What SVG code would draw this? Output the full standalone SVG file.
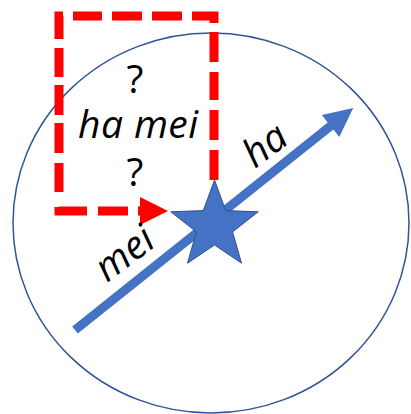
<svg xmlns="http://www.w3.org/2000/svg" width="411" height="414" viewBox="0 0 411 414">
  <style>
    .lbl { font-family: "Open Sans", "Liberation Sans", sans-serif; font-size: 39px; fill: #000000; }
    .it { font-style: italic; }
    .red { fill: none; stroke: #FF0000; stroke-width: 9; stroke-linecap: butt; stroke-linejoin: miter; }
  </style>
  <rect x="0" y="0" width="411" height="414" fill="#FFFFFF"/>
  <g id="circle">
    <ellipse cx="211" cy="223" rx="198" ry="190" fill="none" stroke="#2F5597" stroke-width="1.5"/>
  </g>
  <g id="connectors">
    <g id="vector-arrow">
      <polygon transform="translate(75,330) rotate(-38.6)" points="0,-4.5 327,-4.5 327,-14 356,0 327,14 327,4.5 0,4.5" fill="#4472C4"/>
    </g>
    <g id="dashed-path">
      <path class="red" d="M214,182 V16 H59 V211 H140" stroke-dasharray="0 2 30 10 30 10 28 10 30 9 29 10 30 10 30 10 29 10 27 9 29 8 30 8 30 10 29 15 32 11 30 10 10"/>
      <polygon points="140,197 168,211 140,225" fill="#FF0000"/>
    </g>
  </g>
  <g id="star">
    <polygon points="214.5,180 225.7,210.6 258.2,211.8 232.6,231.9 241.5,263.2 214.5,245 187.5,263.2 196.4,231.9 170.8,211.8 203.3,210.6" fill="#4472C4" stroke="#2F528F" stroke-width="1"/>
  </g>
  <g id="box-text">
    <text class="lbl" text-anchor="middle"><tspan x="135" y="93">?</tspan><tspan class="it" x="138" y="138" textLength="120" lengthAdjust="spacing">ha mei</tspan><tspan x="135" y="186">?</tspan></text>
  </g>
  <g id="label-ha">
    <text class="lbl it" transform="translate(255,169) rotate(-37)">ha</text>
  </g>
  <g id="label-mei">
    <text class="lbl it" transform="translate(107,283) rotate(-37)">mei</text>
  </g>
</svg>
